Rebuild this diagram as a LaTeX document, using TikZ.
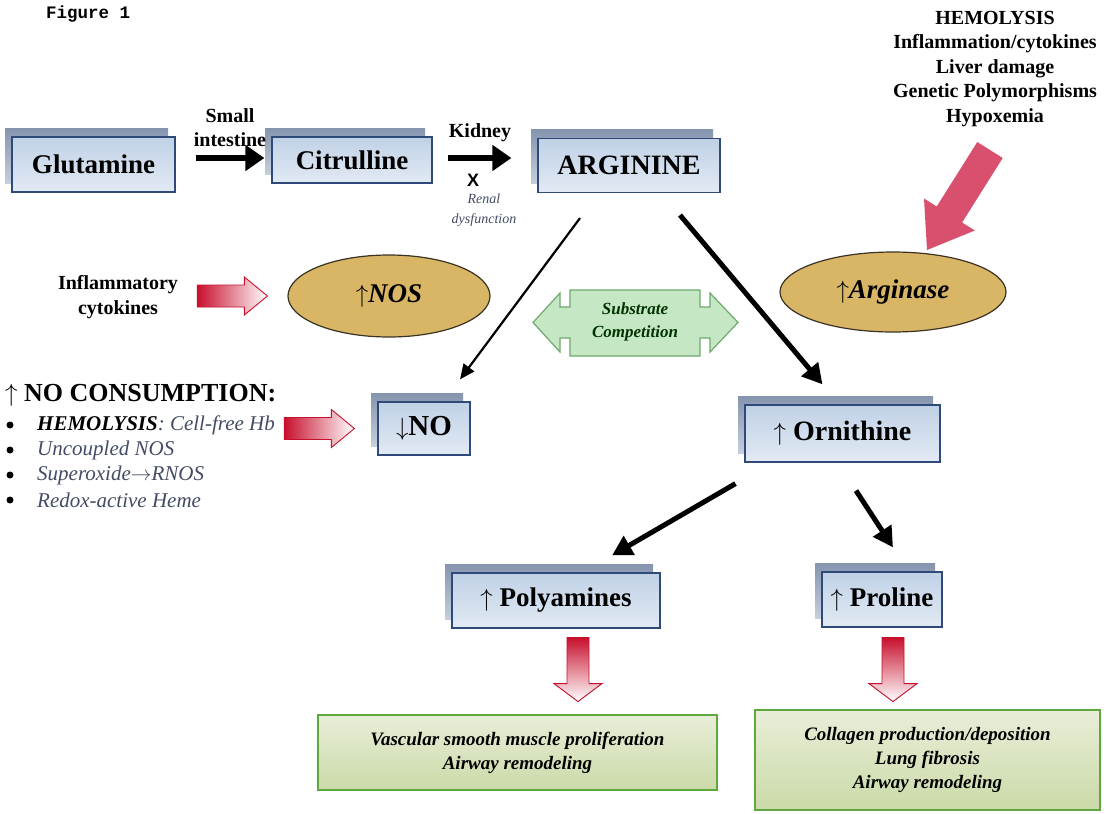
\documentclass[tikz,border=0pt]{standalone}
\usepackage{fontspec}
\setmainfont{Liberation Serif}
\newfontfamily\figmono{Liberation Mono}
\newfontfamily\figsans{Liberation Sans}
\usetikzlibrary{arrows.meta,shadows,shapes.geometric}

\definecolor{boxborder}{HTML}{2F4A78}
\definecolor{boxtop}{HTML}{C0D1E6}
\definecolor{boxbot}{HTML}{E2EAF4}
\definecolor{shadowtop}{HTML}{8595AE}
\definecolor{shadowbot}{HTML}{C5CFDD}
\definecolor{ellfill}{HTML}{D8B665}
\definecolor{ellborder}{HTML}{3B3323}
\definecolor{pinkred}{HTML}{C8102E}
\definecolor{bigpink}{HTML}{D9506E}
\definecolor{greenborder}{HTML}{5FA840}
\definecolor{greentop}{HTML}{E8EED8}
\definecolor{greenbot}{HTML}{CBDAA8}
\definecolor{subfill}{HTML}{C6E7C3}
\definecolor{subborder}{HTML}{6DAA6D}
\definecolor{itemgray}{HTML}{434C64}

\tikzset{
  molbox/.style={draw=boxborder, line width=1.2pt, top color=boxtop, bottom color=boxbot,
    inner sep=0pt, font=\fontsize{27}{30}\selectfont\bfseries,
    general shadow={shadow xshift=-7pt, shadow yshift=9pt, top color=shadowtop, bottom color=shadowbot}},
  enzyme/.style={ellipse, draw=ellborder, line width=1.2pt, fill=ellfill, inner sep=0pt,
    font=\fontsize{27}{30}\selectfont\bfseries\itshape},
  effect/.style={draw=greenborder, line width=2pt, top color=greentop, bottom color=greenbot,
    inner sep=0pt, align=center, font=\fontsize{19}{24}\selectfont\bfseries\itshape},
  lbl/.style={align=center, inner sep=0pt, font=\fontsize{20}{24.5}\selectfont\bfseries},
  item/.style={anchor=west, inner sep=0pt, text=itemgray, font=\fontsize{21}{24}\selectfont\itshape},
  bul/.style={circle, fill=black, inner sep=0pt, minimum size=7pt},
  thinarr/.style={line width=2.2pt, -{Triangle[length=15pt,width=13pt]}},
  thickarr/.style={line width=5pt, -{Triangle[length=20pt,width=21pt]}},
  fatarr/.style={line width=6.5pt, -{Triangle[length=19pt,width=25pt]}},
  pinkh/.pic={\path[draw=pinkred, line width=0.9pt, left color=pinkred, right color=white]
      (0,-11) -- (47,-11) -- (47,-19) -- (70,0) -- (47,19) -- (47,11) -- (0,11) -- cycle;},
  pinkd/.pic={\path[draw=pinkred, line width=0.9pt, top color=pinkred, bottom color=white]
      (-11,0) -- (11,0) -- (11,46) -- (24,46) -- (0,64) -- (-24,46) -- (-11,46) -- cycle;}
}

\begin{document}
\begin{tikzpicture}[x=1pt,y=-1pt]
\useasboundingbox[fill=white] (0,0) rectangle (1106,814);

% title
\node[anchor=west, inner sep=0pt, font=\figmono\fontsize{17.5}{18}\selectfont\bfseries] (fig) at (46,14) {Figure 1};

% top row
\node[molbox, minimum width=163, minimum height=55] (glu) at (93.5,164.5) {Glutamine};
\node[molbox, minimum width=160, minimum height=46] (cit) at (352,160) {Citrulline};
\node[molbox, minimum width=182, minimum height=54, font=\fontsize{28}{30}\selectfont\bfseries] (arg) at (629,165.5) {ARGININE};

\draw[fatarr] ([shift={(20,-6.5)}]glu.east) -- ([shift={(-7,-2)}]cit.west);
\node[lbl] (si) at (230,127.5) {Small\\intestine};
\draw[fatarr] ([shift={(15,-2)}]cit.east) -- ([shift={(-26,-7.5)}]arg.west);
\node[lbl] (kid) at (480,133) {Kidney};
\node[inner sep=0pt, font=\figsans\fontsize{18}{20}\selectfont\bfseries] (xx) at (473,180) {X};
\node[align=center, inner sep=0pt, text=itemgray, font=\fontsize{14}{20}\selectfont\itshape] (renal) at (484,210) {Renal\\dysfunction};

% causes of arginase
\node[lbl] (causes) at (995,69) {HEMOLYSIS\\Inflammation/cytokines\\Liver damage\\Genetic Polymorphisms\\Hypoxemia};

% enzymes
\node[enzyme, minimum width=202, minimum height=82] (nos) at (389,296) {$\uparrow$NOS};
\node[enzyme, minimum width=226, minimum height=80] (ase) at (893,292) {$\uparrow$Arginase};

% big pink arrow
\path[fill=bigpink] (977.3,142.0) -- (1002.7,158.0) -- (962.1,222.5) -- (974.8,230.5) -- (927,250)
   -- (924.0,198.5) -- (936.7,206.5) -- cycle;

% inflammatory cytokines
\node[lbl] (infl) at (118,297) {Inflammatory\\cytokines};
\pic at ([xshift=-90]nos.west) {pinkh};

% substrate competition
\path[draw=subborder, line width=1.2pt, fill=subfill]
  (570,290) -- (700,290) -- (700,307) -- (710,307) -- (710,293) -- (738,322.5) -- (710,352) -- (710,338)
  -- (700,338) -- (700,356) -- (570,356) -- (570,338) -- (560,338) -- (560,352) -- (533,322.5)
  -- (560,293) -- (560,307) -- (570,307) -- cycle;
\node[align=center, inner sep=0pt, text=black!80!green, font=\fontsize{17}{23}\selectfont\bfseries\itshape] (sub) at (635,322) {Substrate\\Competition};

% NO and ornithine
\node[molbox, minimum width=92, minimum height=53, font=\fontsize{29}{30}\selectfont\bfseries] (no) at (424,428.5) {$\downarrow$NO};
\node[molbox, minimum width=195, minimum height=57, font=\fontsize{28}{30}\selectfont\bfseries] (orn) at (842.5,433.5) {$\uparrow$ Ornithine};

\draw[thinarr] ([shift={(-49,25)}]arg.south) -- ([shift={(36,-22)}]no.north);
\draw[thickarr] ([shift={(51,22)}]arg.south) -- ([shift={(-20,-20)}]orn.north);

% NO consumption list
\node[anchor=west, inner sep=0pt, font=\fontsize{26}{28}\selectfont\bfseries] (cons) at (5,395) {$\uparrow$ NO CONSUMPTION:};
\node[bul] (b1) at (10,425) {};
\node[bul] (b2) at (10,450) {};
\node[bul] (b3) at (10,475) {};
\node[bul] (b4) at (10,500) {};
\node[item] (i1) at (37,425) {{\bfseries\color{black}HEMOLYSIS}: Cell-free Hb};
\node[item] (i2) at (37,450) {Uncoupled NOS};
\node[item] (i3) at (37,475) {Superoxide$\rightarrow$RNOS};
\node[item] (i4) at (37,500) {Redox-active Heme};
\pic at ([xshift=-93]no.west) {pinkh};

% polyamines, proline
\node[molbox, minimum width=208, minimum height=55] (poly) at (556,600.5) {$\uparrow$ Polyamines};
\node[molbox, minimum width=120, minimum height=55] (pro) at (882,599.5) {$\uparrow$ Proline};
\draw[thickarr] ([shift={(-107,21)}]orn.south) -- ([shift={(56,-17)}]poly.north);
\draw[thickarr] ([shift={(13.5,28)}]orn.south) -- ([shift={(11,-24)}]pro.north);

\pic at ([shift={(22,9)}]poly.south) {pinkd};
\pic at ([shift={(11,10)}]pro.south) {pinkd};

% effects
\node[effect, minimum width=399, minimum height=75] (eff1) at (517.5,752.5) {Vascular smooth muscle proliferation\\Airway remodeling};
\node[effect, minimum width=345, minimum height=100] (eff2) at (927.5,760) {Collagen production/deposition\\Lung fibrosis\\Airway remodeling};
\end{tikzpicture}
\end{document}
